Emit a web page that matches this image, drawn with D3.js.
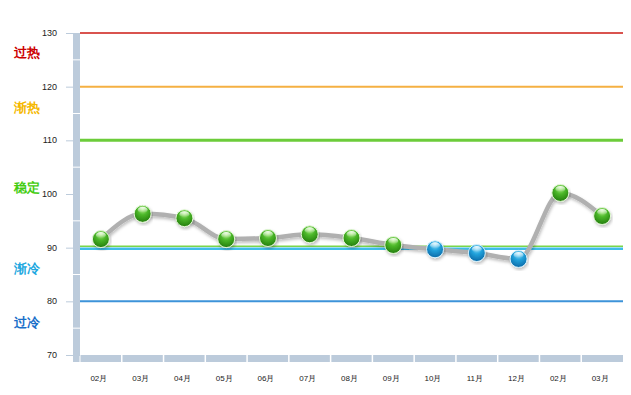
<!DOCTYPE html>
<html>
<head>
<meta charset="utf-8">
<style>
  body { margin: 0; background: #fff; }
  text { font-family: "Liberation Sans", Arial, sans-serif; }
</style>
</head>
<body>
<script src="https://d3js.org/d3.v7.min.js"></script>
<script>
// data
const months = ["02月", "03月", "04月", "05月", "06月", "07月", "08月", "09月", "10月", "11月", "12月", "02月", "03月"];
const values = [91.6, 96.3, 95.5, 91.6, 91.8, 92.5, 91.8, 90.5, 89.7, 89.0, 87.9, 100.2, 95.9];
const yTicks = [70, 80, 90, 100, 110, 120, 130];
const bandLines = [130, 120, 110, 80];
const bandColors = ["#d9534f", "#f5b042", "#6ccc3a", "#3d93d9"];
const zoneNames = ["过热", "渐热", "稳定", "渐冷", "过冷"];
const zoneValues = [126.5, 116.3, 101.3, 86.3, 76.2];
const zoneColors = ["#cc0000", "#f5b800", "#44cc11", "#22a8e0", "#1a6fc9"];

const width = 631, height = 395;
const plotLeft = 80, plotRight = 623, plotTop = 33, plotBottom = 355;

const svg = d3.select("body").append("svg")
  .attr("width", width)
  .attr("height", height);

const defs = svg.append("defs");
const shadow = defs.append("filter").attr("id", "shadow")
  .attr("x", "-10%").attr("y", "-20%").attr("width", "120%").attr("height", "140%");
shadow.append("feDropShadow").attr("dx", 1).attr("dy", 2).attr("stdDeviation", 1.5)
  .attr("flood-color", "#000").attr("flood-opacity", 0.25);

function ball(id, light, mid, dark) {
  const g = defs.append("radialGradient").attr("id", id)
    .attr("cx", "50%").attr("cy", "35%").attr("r", "65%").attr("fx", "50%").attr("fy", "20%");
  g.append("stop").attr("offset", "0%").attr("stop-color", light);
  g.append("stop").attr("offset", "45%").attr("stop-color", mid);
  g.append("stop").attr("offset", "100%").attr("stop-color", dark);
  const h = defs.append("linearGradient").attr("id", id + "h")
    .attr("x1", 0).attr("y1", 0).attr("x2", 0).attr("y2", 1);
  h.append("stop").attr("offset", "0%").attr("stop-color", "#fff").attr("stop-opacity", 0.9);
  h.append("stop").attr("offset", "100%").attr("stop-color", "#fff").attr("stop-opacity", 0);
}
ball("gGreen", "#b6f08a", "#4cb82a", "#237d0c");
ball("gBlue", "#9fe3fb", "#22a3dc", "#0a6aa8");

const x = d3.scaleBand().domain(d3.range(months.length)).range([plotLeft, plotRight]);
const y = d3.scaleLinear().domain([70, 130]).range([plotBottom, plotTop]);

// y axis bar with segments
svg.append("rect").attr("x", 73).attr("y", plotTop).attr("width", 7).attr("height", plotBottom - plotTop + 7)
  .attr("fill", "#bccbdb");
d3.range(75, 130, 10).forEach(v => {
  svg.append("line").attr("x1", 73).attr("x2", 80).attr("y1", y(v)).attr("y2", y(v))
    .attr("stroke", "#fff").attr("stroke-width", 1);
});

// x axis bar with segments
svg.append("rect").attr("x", plotLeft).attr("y", plotBottom).attr("width", plotRight - plotLeft).attr("height", 7)
  .attr("fill", "#bccbdb");
svg.append("line").attr("x1", 80).attr("x2", 80).attr("y1", plotBottom).attr("y2", plotBottom + 7)
  .attr("stroke", "#fff");
d3.range(1, months.length).forEach(i => {
  svg.append("line").attr("x1", x(i)).attr("x2", x(i)).attr("y1", plotBottom).attr("y2", plotBottom + 7)
    .attr("stroke", "#fff").attr("stroke-width", 1.5);
});

// y ticks
const yAxis = svg.append("g");
yTicks.forEach(v => {
  yAxis.append("line").attr("x1", 66).attr("x2", 73).attr("y1", y(v) + 0.5).attr("y2", y(v) + 0.5)
    .attr("stroke", "#bccbdb");
  yAxis.append("text").attr("x", 57).attr("y", y(v) + 3).attr("text-anchor", "end")
    .attr("font-size", 9).attr("fill", "#222").text(v);
});
svg.append("line").attr("x1", 66).attr("x2", 80).attr("y1", plotBottom + 0.5).attr("y2", plotBottom + 0.5)
  .attr("stroke", "#bccbdb");

// x labels
months.forEach((m, i) => {
  svg.append("text").attr("x", x(i) + x.bandwidth() / 2 - 2).attr("y", 381).attr("text-anchor", "middle")
    .attr("font-size", 8).attr("fill", "#222").text(m);
});

// threshold lines
bandLines.forEach((v, i) => {
  const w = (v === 110) ? 3 : 2;
  svg.append("line").attr("x1", plotLeft).attr("x2", plotRight).attr("y1", y(v)).attr("y2", y(v))
    .attr("stroke", bandColors[i]).attr("stroke-width", w);
});
// 90: green over cyan double line
svg.append("line").attr("x1", plotLeft).attr("x2", plotRight).attr("y1", y(90) - 1.5).attr("y2", y(90) - 1.5)
  .attr("stroke", "#7ad64a").attr("stroke-width", 1.5);
svg.append("line").attr("x1", plotLeft).attr("x2", plotRight).attr("y1", y(90) + 1).attr("y2", y(90) + 1)
  .attr("stroke", "#3fbde8").attr("stroke-width", 2.5);

// zone names
zoneNames.forEach((n, i) => {
  svg.append("text").attr("x", 14).attr("y", y(zoneValues[i]) + 5)
    .attr("font-family", "'Noto Sans CJK SC', sans-serif")
    .attr("font-size", 13).attr("font-weight", "bold").attr("fill", zoneColors[i]).text(n);
});

// series line
const pts = values.map((v, i) => [x(i) + x.bandwidth() / 2, y(v)]);
const line = d3.line().curve(d3.curveMonotoneX);
svg.append("path").attr("d", line(pts)).attr("fill", "none")
  .attr("stroke", "#b0b0b0").attr("stroke-width", 4.5).attr("stroke-linecap", "round")
  .attr("filter", "url(#shadow)");

// markers
const dots = svg.append("g").selectAll("g").data(values).join("g")
  .attr("transform", (d, i) => `translate(${pts[i][0]},${pts[i][1]})`);
dots.append("circle").attr("r", 8.5)
  .attr("fill", d => d < 90 ? "url(#gBlue)" : "url(#gGreen)")
  .attr("stroke", d => d < 90 ? "#d8f2fc" : "#e3f7d6").attr("stroke-width", 1)
  .attr("filter", "url(#shadow)");
dots.append("ellipse").attr("cx", 0).attr("cy", -4).attr("rx", 5).attr("ry", 3)
  .attr("fill", d => d < 90 ? "url(#gBlueh)" : "url(#gGreenh)");
</script>
</body>
</html>
